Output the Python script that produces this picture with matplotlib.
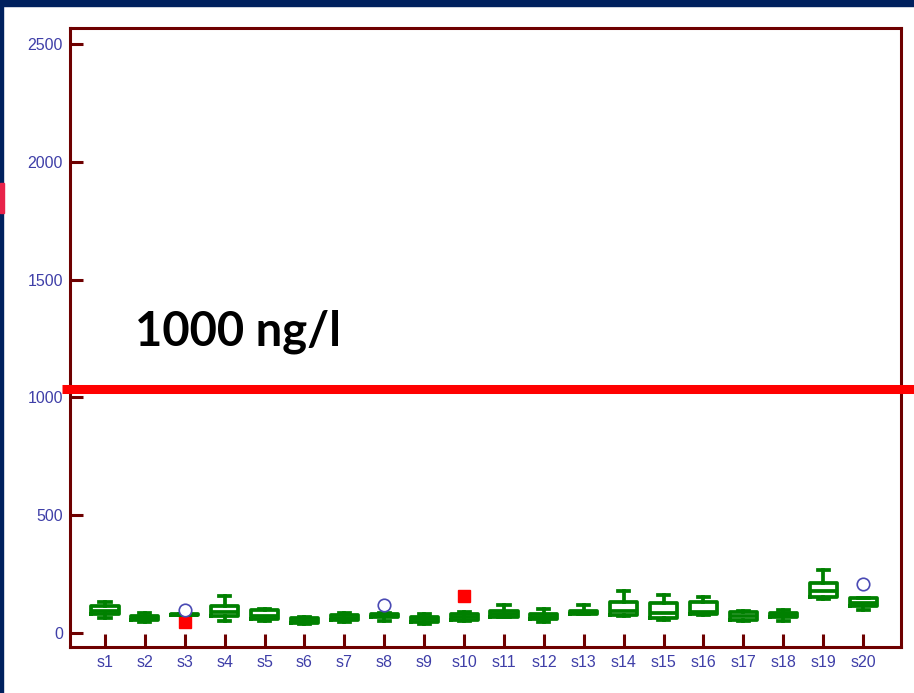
import matplotlib
matplotlib.use("Agg")
import matplotlib.pyplot as plt
from matplotlib.patches import Rectangle

# Sample names and box statistics (ng/l)
samples = ["s%d" % i for i in range(1, 21)]
whislo = [64, 47, 74, 51, 51, 36, 45, 49, 38, 49, 68, 47, 79, 70, 55, 76, 51, 51, 144, 98]
q1     = [82, 54, 74, 73, 59, 40, 55, 68, 47, 55, 68, 57, 79, 74, 62, 81, 55, 68, 151, 115]
med    = [92, 63, 77, 89, 72, 50, 63, 74, 57, 66, 80, 67, 85, 91, 86, 90, 70, 76, 176, 126]
q3     = [113, 73, 80, 115, 98, 64, 74, 81, 68, 81, 91, 81, 93, 129, 126, 129, 87, 86, 211, 150]
whishi = [131, 84, 80, 155, 102, 68, 83, 85, 79, 89, 117, 100, 117, 178, 159, 153, 93, 98, 265, 150]

# outliers (open circles) and extreme values (red squares)
outlier_idx = [3, 8, 20]
outlier_val = [95, 119, 207]
extreme_idx = [3, 10]
extreme_val = [47, 155]

limit_value = 1034
limit_label = "1000 ng/l"

green = "#008000"
maroon = "#6e0000"
tickblue = "#3f3fa8"
navy = "#00215e"

plt.rcParams["font.family"] = ["Liberation Sans", "DejaVu Sans"]

fig = plt.figure(figsize=(9.14, 6.93), dpi=100)
ax = fig.add_axes([70 / 914, 1 - 646.5 / 693, 831 / 914, 618.2 / 693])

stats = []
for i, name in enumerate(samples):
    fl = [v for k, v in zip(outlier_idx, outlier_val) if k == i + 1]
    stats.append(dict(label=name, whislo=whislo[i], q1=q1[i], med=med[i],
                      q3=q3[i], whishi=whishi[i], fliers=fl))

lw = 2.7
ax.bxp(stats, positions=range(1, 21), widths=0.68, capwidths=0.28,
       boxprops=dict(color=green, linewidth=lw),
       whiskerprops=dict(color=green, linewidth=lw),
       capprops=dict(color=green, linewidth=lw),
       medianprops=dict(color=green, linewidth=lw),
       flierprops=dict(marker="o", markersize=9, markerfacecolor="white",
                       markeredgecolor="#4a4ab4", markeredgewidth=1.2, zorder=4),
       manage_ticks=False)

ax.plot(extreme_idx, extreme_val, linestyle="none", marker="s", markersize=8,
        color="#ff0000", zorder=1)

# limit line runs past the frame on both sides
trans = matplotlib.transforms.blended_transform_factory(ax.transAxes, ax.transData)
ax.plot([-0.0096, 1.02], [limit_value, limit_value], color="#ff0000", linewidth=6.5,
        solid_capstyle="butt", transform=trans, clip_on=False, zorder=5)
ax.text(1.75, 1218, limit_label, fontsize=34, fontweight="bold", family=["Lato", "DejaVu Sans"],
        color="black", va="baseline", ha="left")

ax.set_xlim(0.123, 20.95)
ax.set_ylim(-58, 2567)
ax.set_xticks(range(1, 21))
ax.set_xticklabels(samples)
ax.set_yticks([0, 500, 1000, 1500, 2000, 2500])

for s in ax.spines.values():
    s.set_color(maroon)
    s.set_linewidth(2.2)
ax.tick_params(direction="in", length=9.5, width=2.2, color=maroon,
               labelcolor=tickblue, labelsize=11.5, pad=5)
ax.tick_params(axis="x", pad=6)

# slide frame decorations
fig.add_artist(Rectangle((0, 1 - 6 / 693), 1, 6 / 693, transform=fig.transFigure,
                         color=navy, zorder=10))
fig.add_artist(Rectangle((0, 0), 3 / 914, 1, transform=fig.transFigure, color=navy, zorder=10))
fig.add_artist(Rectangle((0, 1 - 213 / 693), 3.5 / 914, 30 / 693, transform=fig.transFigure,
                         color="#e8234a", zorder=11))

fig.savefig("out.png", dpi=100)
